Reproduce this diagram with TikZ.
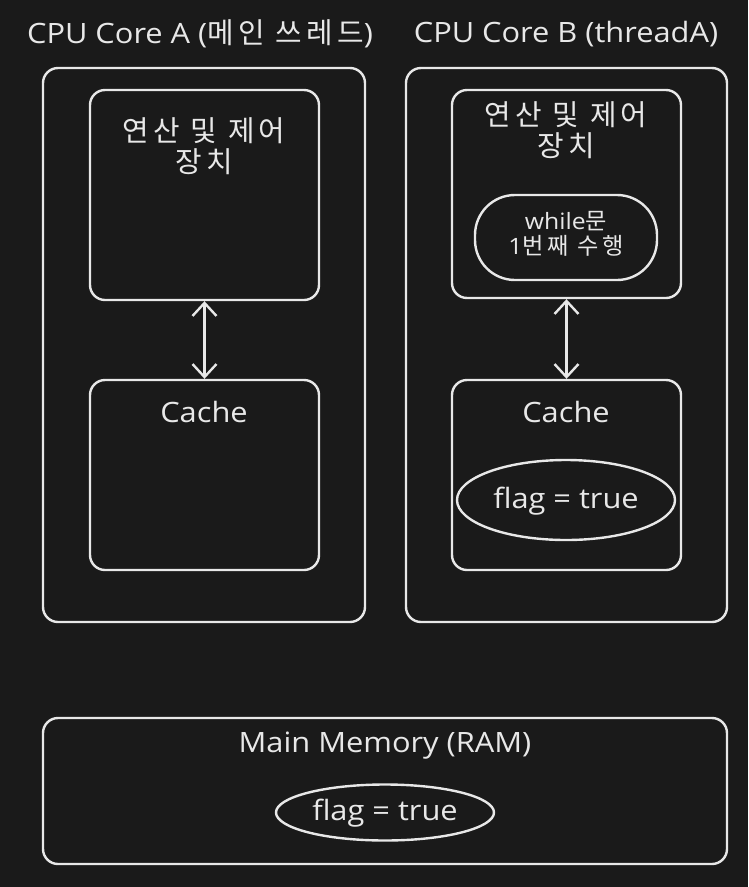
\documentclass[tikz,border=0pt]{standalone}
\usepackage{fontspec}
\setmainfont[FakeStretch=1.1]{Open Sans}
\newfontfamily\krf[LetterSpace=15,Scale=1.03]{Noto Sans CJK KR}
\newcommand{\K}[1]{{\krf #1}}
\usetikzlibrary{arrows.meta,shapes.geometric}
\definecolor{bg}{HTML}{1A1A1A}
\definecolor{fg}{HTML}{E8E8E8}
\begin{document}
\begin{tikzpicture}[x=1pt,y=-1pt,
  box/.style={draw=fg,line width=2.4pt,rounded corners=15pt},
  lbl/.style={text=fg,inner sep=0pt,align=center,font=\fontsize{28}{30}\selectfont},
  small/.style={text=fg,inner sep=0pt,align=center,font=\fontsize{22.5}{24}\selectfont},
  oval/.style={draw=fg,line width=2.4pt,ellipse,inner sep=0pt},
  dbl/.style={draw=fg,line width=2.4pt,{Straight Barb[length=13pt,width=24pt]}-{Straight Barb[length=13pt,width=24pt]}}]
\fill[bg] (0,0) rectangle (748,887);
\useasboundingbox (0,0) rectangle (748,887);
% titles
\node[lbl] (tA) at (200,34) {CPU Core A (\K{메인 쓰레드})};
\node[lbl] (tB) at (566,34) {CPU Core B (threadA)};
% core A
\draw[box] (43,68) rectangle (365,622);
\node[box,minimum width=229pt,minimum height=210pt,inner sep=0pt] (aluA) at (204.5,195) {};
\node[lbl] at (204,146) {\K{연산 및 제어}\\[1pt]\K{장치}};
\node[box,minimum width=229pt,minimum height=190pt,inner sep=0pt] (cacheA) at (204.5,475) {};
\node[lbl] at (204,412) {Cache};
\draw[dbl] (aluA.south) -- (cacheA.north);
% core B
\draw[box] (406,68) rectangle (727,622);
\node[box,minimum width=229pt,minimum height=208pt,inner sep=0pt] (aluB) at (566.5,194) {};
\node[lbl] at (566,130) {\K{연산 및 제어}\\[1pt]\K{장치}};
\node[draw=fg,line width=2.4pt,rounded corners=40pt,minimum width=182pt,minimum height=85pt,inner sep=0pt] (wh) at (566,237.5) {};
\node[small] at (566,234) {while\K{문}\\[1pt]1\K{번째 수행}};
\node[box,minimum width=229pt,minimum height=190pt,inner sep=0pt] (cacheB) at (566.5,475) {};
\node[lbl] at (566,412) {Cache};
\node[oval,minimum width=218pt,minimum height=80pt] (flagB) at (566,500) {};
\node[lbl] at (566,501) {flag = true};
\draw[dbl] (aluB.south) -- (cacheB.north);
% main memory
\node[box,minimum width=684pt,minimum height=146pt,inner sep=0pt] (mem) at (385,791) {};
\node[lbl] at (385,746) {Main Memory (RAM)};
\node[oval,minimum width=218pt,minimum height=56pt] (flagM) at (385,812.5) {};
\node[lbl] at (385,813) {flag = true};
\end{tikzpicture}
\end{document}
